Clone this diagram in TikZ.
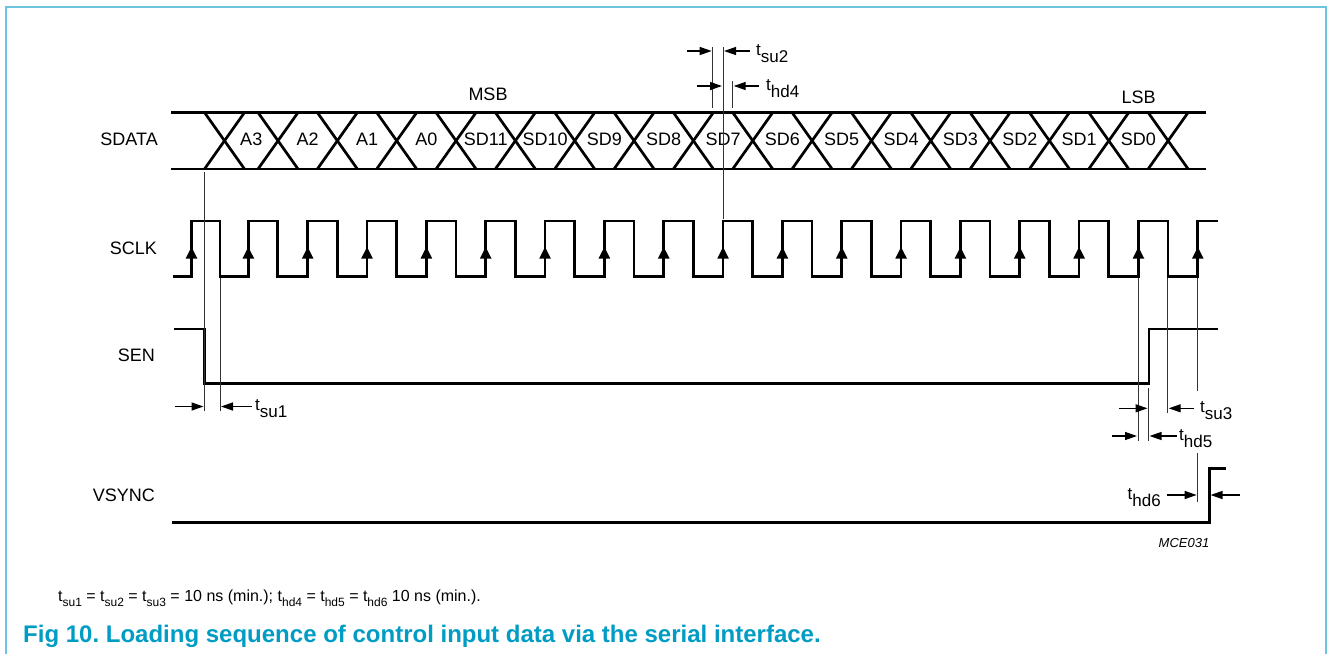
\documentclass[tikz,border=0pt]{standalone}
\usepackage{fontspec}
\setmainfont{Liberation Sans}
\usetikzlibrary{arrows.meta}
\definecolor{framecol}{RGB}{108,197,222}
\definecolor{capcol}{RGB}{0,156,196}
\newcommand\tlab[2]{#1\raisebox{-0.42em}{#2}}
\newcommand\sbs[1]{\raisebox{-0.3em}{\fontsize{12}{13}\selectfont #1}}
\begin{document}
\begin{tikzpicture}[x=1pt,y=-1pt,
  sig/.style={line width=2.7pt, line join=miter},
  guide/.style={line width=1pt, black!80},
  dim/.style={line width=1.3pt, -{Triangle[length=12pt,width=8pt]}},
  lbl/.style={font=\fontsize{18}{20}\selectfont, inner sep=0pt},
  tl/.style={font=\fontsize{17}{19}\selectfont, inner sep=0pt, anchor=base west},
]
\useasboundingbox (0,0) rectangle (1327,654);
\draw[framecol, line width=2pt] (5.5,654) -- (5.5,7) -- (1325.5,7) -- (1325.5,654);

% signal names
\node[lbl, anchor=east] (sdata) at (158,139) {SDATA};
\node[lbl, anchor=east] (sclk) at (157,248) {SCLK};
\node[lbl, anchor=east] (sen) at (155,355) {SEN};
\node[lbl, anchor=east] (vsync) at (155,495) {VSYNC};
\node[lbl] (msb) at (488,94) {MSB};
\node[lbl] (lsb) at (1138.5,97) {LSB};

% SDATA bus
\draw[sig] (171,112.5) -- (1206,112.5);
\draw[sig] (171,169) -- (1206,169);
\foreach \k in {1,...,17}{
  \pgfmathsetmacro\cx{\k==1 ? 224.5 : 159.33+59.34*\k}
  \draw[sig] (\cx-20,112.5) -- (\cx+20,169);
  \draw[sig] (\cx-20,169) -- (\cx+20,112.5);
}
\foreach \t [count=\k] in {A3,A2,A1,A0,SD11,SD10,SD9,SD8,SD7,SD6,SD5,SD4,SD3,SD2,SD1,SD0}{
  \pgfmathsetmacro\ca{\k==1 ? 224.5 : 159.33+59.34*\k}
  \pgfmathsetmacro\cb{159.33+59.34*(\k+1)}
  \node[lbl] (cell\k) at ({(\ca+\cb)/2},139) {\t};
}

% SCLK
\draw[sig] (172.5,276.5) -- (191.5,276.5) -- (191.5,221) -- (220,221) -- (220,276.5)
  \foreach \i in {1,...,16}{ -- ({189+59.34*\i},276.5) -- ({189+59.34*\i},221) -- ({218.5+59.34*\i},221) -- ({218.5+59.34*\i},276.5) }
  -- (1197.8,276.5) -- (1197.8,221) -- (1218,221);
\foreach \i in {0,...,17}{
  \pgfmathsetmacro\rx{\i==0 ? 191.5 : 189+59.34*\i}
  \fill (\rx-5.8,258.5) -- (\rx+5.8,258.5) -- (\rx,247) -- cycle;
}

% SEN
\draw[sig] (174,329) -- (204.5,329) -- (204.5,383.5) -- (1149,383.5) -- (1149,329) -- (1218,329);

% VSYNC
\draw[sig] (172,522.5) -- (1209.5,522.5) -- (1209.5,468.5) -- (1226,468.5);

% guide lines
\draw[guide] (204.5,172) -- (204.5,411);
\draw[guide] (220,278) -- (220,411);
\draw[guide] (712.7,47) -- (712.7,108);
\draw[guide] (723,47) -- (723,219);
\draw[guide] (732.7,81) -- (732.7,108);
\draw[guide] (1138,278) -- (1138,441);
\draw[guide] (1167.7,278) -- (1167.7,413);
\draw[guide] (1197.6,278) -- (1197.6,391);
\draw[guide] (1148.5,388) -- (1148.5,441);
\draw[guide] (1197.6,453) -- (1197.6,502);

% timing arrows and labels
\draw[dim] (175,406.5) -- (203.5,406.5);
\draw[dim] (252,406.5) -- (221,406.5);
\node[tl] (tsu1) at (255,410) {\tlab{t}{su1}};

\draw[dim] (687,51) -- (711.7,51);
\draw[dim] (750,51) -- (724,51);
\node[tl] (tsu2) at (756,55) {\tlab{t}{su2}};

\draw[dim] (697,86) -- (722,86);
\draw[dim] (759,86) -- (733.7,86);
\node[tl] (thd4) at (766,90) {\tlab{t}{hd4}};

\draw[dim] (1119,408.3) -- (1147.5,408.3);
\draw[dim] (1194,408.3) -- (1168.7,408.3);
\node[tl] (tsu3) at (1200,412.5) {\tlab{t}{su3}};

\draw[dim] (1111.7,436) -- (1137,436);
\draw[dim] (1176.7,436) -- (1149.5,436);
\node[tl] (thd5) at (1179,440) {\tlab{t}{hd5}};

\draw[dim] (1167,495) -- (1196.6,495);
\draw[dim] (1240,495) -- (1210.5,495);
\node[tl, anchor=base east] (thd6) at (1161,499) {\tlab{t}{hd6}};

\node[inner sep=0pt, font=\fontsize{13}{14}\selectfont\itshape] (mce) at (1184,543) {MCE031};

\node[inner sep=0pt, anchor=base west, font=\fontsize{16}{18}\selectfont] (note) at (58,601.5)
 {t\sbs{su1} = t\sbs{su2} = t\sbs{su3} = 10 ns (min.); t\sbs{hd4} = t\sbs{hd5} = t\sbs{hd6} 10 ns (min.).};
\node[inner sep=0pt, anchor=base west, font=\fontsize{24}{28}\bfseries, text=capcol] (caption) at (23,642.5)
 {Fig 10.\ Loading sequence of control input data via the serial interface.};
\end{tikzpicture}
\end{document}
